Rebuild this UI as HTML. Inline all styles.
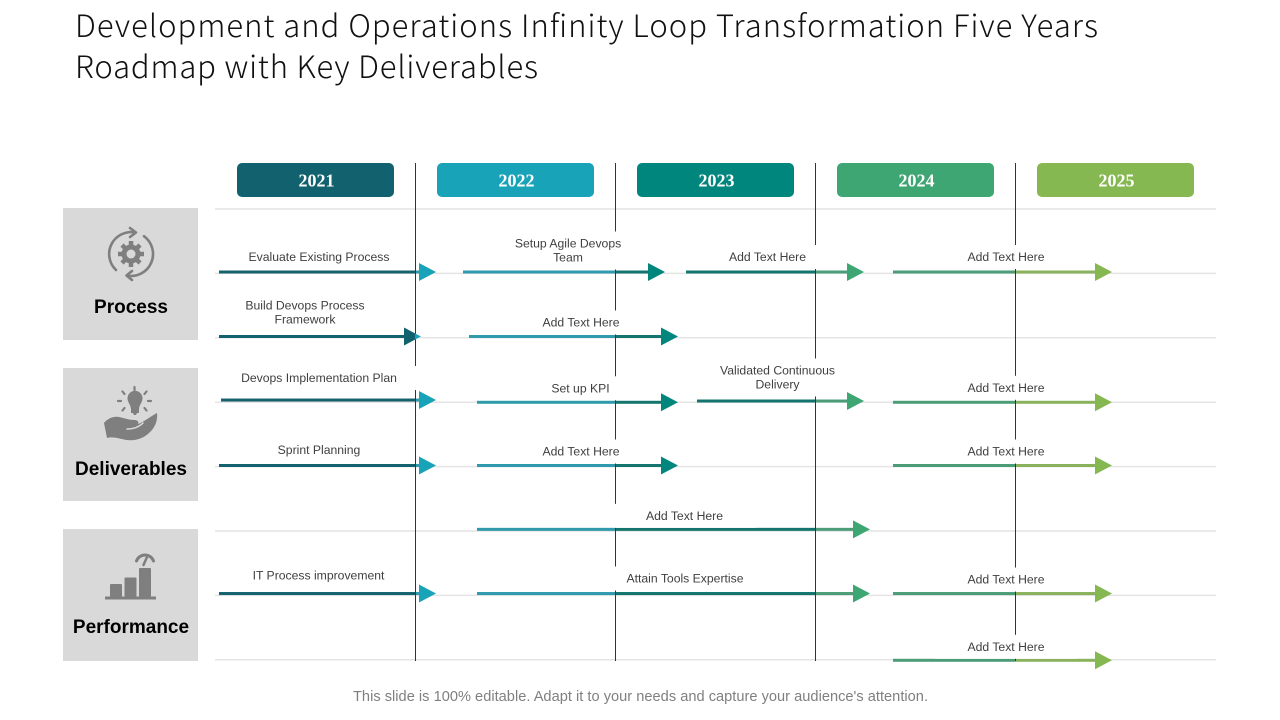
<!DOCTYPE html>
<html lang="en">
<head>
<meta charset="utf-8">
<title>Five Years Roadmap</title>
<style>
html,body{margin:0;padding:0;background:#fff;width:1280px;height:720px;overflow:hidden}
svg{display:block}
.title{font-family:"Noto Sans CJK KR","NanumGothic","Liberation Sans",sans-serif;font-weight:300;font-size:31px;fill:#111}
.cat{font-family:"Liberation Sans",sans-serif;font-weight:700;font-size:19px;fill:#000;text-anchor:middle}
.foot{font-family:"Liberation Sans",sans-serif;font-size:14.6px;fill:#7f7f7f;text-anchor:middle}
.yr{font-family:"Liberation Serif",serif;font-weight:700;font-size:18px;fill:#fff;text-anchor:middle}
.lbl{font-family:"Liberation Sans",sans-serif;font-size:12.2px;fill:#404040;text-anchor:middle}
</style>
</head>
<body>
<svg id="chart" width="1280" height="720" viewBox="0 0 1280 720" xmlns="http://www.w3.org/2000/svg">
  <text class="title" x="75" y="37" textLength="1023" lengthAdjust="spacing">Development and Operations Infinity Loop Transformation Five Years</text>
  <text class="title" x="75" y="78" textLength="463" lengthAdjust="spacing">Roadmap with Key Deliverables</text>

  <rect x="63" y="208" width="135" height="132" fill="#d9d9d9"/>
  <rect x="63" y="368" width="135" height="133" fill="#d9d9d9"/>
  <rect x="63" y="529" width="135" height="132" fill="#d9d9d9"/>

  <g fill="none" stroke="#7f7f7f" stroke-width="2.6" stroke-linecap="round" stroke-linejoin="round">
    <path d="M116 270A22 22 0 0 1 135 232.400"/>
    <path d="M130 228L136 232.500L130 237"/>
    <path d="M144 236.200A22 22 0 0 1 127 275.600"/>
    <path d="M132 271L126.500 275.500L132 280"/>
    <g stroke-width="4.500" stroke-linecap="butt">
      <path d="M131 241V267"/><path d="M118 254H144"/><path d="M122 245L140 263"/><path d="M140 245L122 263"/>
    </g>
    <circle cx="131" cy="254" r="9.500" fill="#7f7f7f" stroke="none"/>
    <circle cx="131" cy="254" r="4.500" fill="#d9d9d9" stroke="none"/>
  </g>
  <g>
    <path d="M127 402a7.500 7.500 0 1 1 14 0c-1 3-2.500 4-3 8v4h-2l-1 2h-2l-1-2h-2v-4c-.5-4-2-5-3-8z" transform="translate(1 -1)" fill="#7f7f7f"/>
    <path d="M134.500 390v-3M124.500 394l-2-2.500M144.500 394l2-2.500M121 401h-3M148 401h3M124.500 408l-2 2.500M144.500 408l2 2.500" stroke="#7f7f7f" stroke-width="2.200" fill="none" stroke-linecap="round"/>
    <path d="M104 423C108 418 114 416 119 417C124 418 129 420 134 420C138 420 139 422 138 424C144 422 151 416 157 413C158 420 155 428 149 433C143 439 134 441 127 440C120 439 113 436 107 438Z" fill="#7f7f7f"/>
    <path d="M127 429C133 429 139 427 143 423" stroke="#d9d9d9" stroke-width="1.500" fill="none" stroke-linecap="round"/>
  </g>
  <g fill="#7f7f7f">
    <rect x="105" y="596.500" width="51" height="3"/>
    <rect x="110" y="584" width="12" height="13" rx="1"/>
    <rect x="124.500" y="577.500" width="12" height="19.500" rx="1"/>
    <rect x="139" y="568" width="12" height="29" rx="1"/>
    <path d="M136.500 561A9 9 0 0 1 153.500 561" fill="none" stroke="#7f7f7f" stroke-width="3" stroke-linecap="round"/>
    <path d="M143.500 565L147 557" fill="none" stroke="#7f7f7f" stroke-width="2.500" stroke-linecap="round"/>
  </g>

  <text class="cat" x="131" y="313">Process</text>
  <text class="cat" x="131" y="475">Deliverables</text>
  <text class="cat" x="131" y="633">Performance</text>

  <g id="grid"></g>
  <g id="headers"></g>
  <g id="bars"></g>
  <g id="dividers"></g>
  <g id="boxes"></g>
  <g id="heads"></g>
  <g id="labels"></g>

  <text class="foot" x="640.500" y="701" textLength="575" lengthAdjust="spacing">This slide is 100% editable. Adapt it to your needs and capture your audience's attention.</text>
</svg>
<script>
// ---- data ----
const years = [2021, 2022, 2023, 2024, 2025];
const taskNames = [
  "Evaluate Existing Process", "Setup Agile Devops\nTeam", "Add Text Here", "Add Text Here",
  "Build Devops Process\nFramework", "Add Text Here",
  "Devops Implementation Plan", "Set up KPI", "Validated Continuous\nDelivery", "Add Text Here",
  "Sprint Planning", "Add Text Here", "Add Text Here",
  "Add Text Here",
  "IT Process improvement", "Attain Tools Expertise", "Add Text Here",
  "Add Text Here"
];
const taskStart = [
  2021.02, 2022.24, 2023.355, 2024.39,
  2021.02, 2022.27,
  2021.03, 2022.31, 2023.41, 2024.39,
  2021.02, 2022.31, 2024.39,
  2022.31,
  2021.02, 2022.31, 2024.39,
  2024.39
];
const taskEnd = [
  2022.105, 2023.25, 2024.245, 2025.485,
  2022.03, 2023.315,
  2022.105, 2023.315, 2024.245, 2025.485,
  2022.105, 2023.315, 2025.485,
  2024.275,
  2022.105, 2024.275, 2025.485,
  2025.485
];
const taskLane = [
  0, 0, 0, 0,
  1, 1,
  1.985, 2.02, 2, 2.02,
  3, 3, 3,
  3.99,
  4.985, 4.985, 4.985,
  6.02
];

// ---- layout (not data) ----
const labelShiftX = [-8.5,4,-7.5,3.5,-15,7.5,-9.5,3,-3,3.5,-8.5,3.5,3.5,11,-9,11.5,3.5,3.5];
const labelLift = [11,10.5,11,11,13,10,18,10,12.5,10.5,11.5,10,10,9.5,14,11,10,9.5];
const headerColors = ["#11626e","#19a3b8","#00867c","#3ea672","#86b851"];
const lineColors = ["#14626e","#2f9aab","#14756f","#4c9c78","#8ab25c"];

const NS = "http://www.w3.org/2000/svg";
const xScale = function (yr) { return 215 + (yr - years[0]) * 200; };
const yScale = function (lane) { return 272 + lane * 64.5; };
const gridY = function (i) { return 209 + i * 64.4; };
const HEAD_W = 17, HEAD_H = 9, LINE_H = 3;

function make(tag, attrs, parent) {
  const el = document.createElementNS(NS, tag);
  for (const k in attrs) el.setAttribute(k, attrs[k]);
  parent.appendChild(el);
  return el;
}
const gridG = document.getElementById("grid");
const headerG = document.getElementById("headers");
const barsG = document.getElementById("bars");
const dividerG = document.getElementById("dividers");
const boxG = document.getElementById("boxes");
const headG = document.getElementById("heads");
const labelG = document.getElementById("labels");

for (let i = 0; i < 8; i++) {
  const g = make("line", {x1: 215, x2: 1216, y1: gridY(i), y2: gridY(i), stroke: "#e4e4e4", "stroke-width": 1.5}, gridG);
  
  
}

years.forEach(function (yr, i) {
  const left = xScale(yr);
  const pill = make("rect", {x: left + 22, y: 163, width: 157, height: 34, rx: 5, fill: headerColors[i]}, headerG);
  
  
  const t = make("text", {class: "yr", x: left + 101.5, y: 186.5}, headerG);
  t.textContent = yr;
  
  
  if (i > 0) {
    const d = make("line", {x1: left + 0.5, x2: left + 0.5, y1: 163, y2: 661, stroke: "#333", "stroke-width": 1}, dividerG);
    
    
  }
});

function bandOf(px) {
  const idx = Math.floor((px - xScale(years[0])) / 200);
  return Math.max(0, Math.min(years.length - 1, idx));
}

taskNames.forEach(function (name, i) {
  const x0 = xScale(taskStart[i]);
  const tip = xScale(taskEnd[i]);
  const base = tip - HEAD_W;
  const y = yScale(taskLane[i]);

  const group = make("g", {}, barsG);
  
  

  // shaft: one segment per year band
  let cur = x0;
  while (cur < base) {
    const band = bandOf(cur + 0.001);
    const stop = Math.min(base + 1, xScale(years[band] + 1));
    const seg = make("rect", {x: cur, y: y - LINE_H / 2, width: stop - cur, height: LINE_H, fill: lineColors[band]}, group);
    
    
    cur = stop;
    if (stop >= base) break;
  }

  // head: coloured by year band, split if it crosses a year boundary
  const bBase = bandOf(base + 0.001);
  const bTip = bandOf(tip - 0.001);
  if (bBase === bTip) {
    const head = make("polygon", {points: base + "," + (y - HEAD_H) + " " + tip + "," + y + " " + base + "," + (y + HEAD_H), fill: headerColors[bTip]}, headG);
    
    
  } else {
    const cut = xScale(years[bTip]);
    const h = HEAD_H * (tip - cut) / HEAD_W;
    const left = make("polygon", {points: base + "," + (y - HEAD_H) + " " + cut + "," + (y - h) + " " + cut + "," + (y + h) + " " + base + "," + (y + HEAD_H), fill: headerColors[bBase]}, headG);
    
    
    const right = make("polygon", {points: cut + "," + (y - h) + " " + tip + "," + y + " " + cut + "," + (y + h), fill: headerColors[bTip]}, headG);
    
    
  }

  // label plus its white text box, which masks the year dividers
  const lines = name.split("\n");
  const cx = (x0 + tip) / 2 + labelShiftX[i];
  const lastBase = y - labelLift[i];
  let maxW = 0;
  lines.forEach(function (ln, k) {
    const t = make("text", {class: "lbl", x: cx, y: lastBase - (lines.length - 1 - k) * 14}, labelG);
    t.textContent = ln;
    
    
    maxW = Math.max(maxW, t.getComputedTextLength());
  });
  const boxW = Math.max(142, maxW + 44);
  const boxTop = lastBase - 16 - (lines.length - 1) * 14;
  const box = make("rect", {x: cx - boxW / 2, y: boxTop, width: boxW, height: lastBase + 8 - boxTop, fill: "#fff"}, boxG);
  
  
});
</script>
</body>
</html>
